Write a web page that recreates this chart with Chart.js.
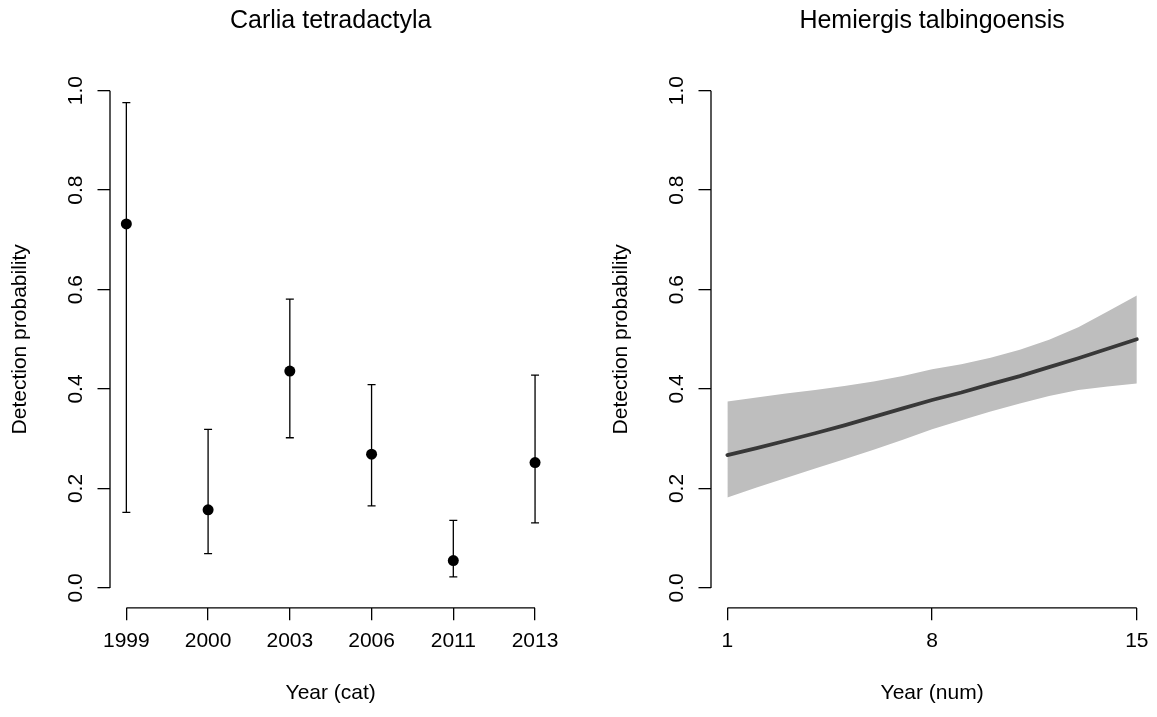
<!DOCTYPE html>
<html><head><meta charset="utf-8">
<script src="https://cdn.jsdelivr.net/npm/chart.js@4"></script>
<style>
html,body{margin:0;padding:0;background:#fff;width:1157px;height:717px;overflow:hidden}
#left{position:absolute;left:0;top:0}
#right{position:absolute;left:601px;top:0}
</style></head><body>
<canvas id="left" width="578" height="717"></canvas>
<canvas id="right" width="556" height="717"></canvas>
<script>
// ---- data ----
const years = ['1999', '2000', '2003', '2006', '2011', '2013'];
const carliaEst   = [0.732, 0.157, 0.436, 0.269, 0.055, 0.252];
const carliaLower = [0.152, 0.069, 0.302, 0.165, 0.022, 0.131];
const carliaUpper = [0.976, 0.319, 0.581, 0.409, 0.136, 0.428];

const yearNum   = [1, 2, 3, 4, 5, 6, 7, 8, 9, 10, 11, 12, 13, 14, 15];
const hemiEst   = [0.267, 0.281, 0.296, 0.311, 0.327, 0.344, 0.361, 0.378, 0.393, 0.410, 0.426, 0.444, 0.462, 0.481, 0.500];
const hemiLower = [0.182, 0.202, 0.221, 0.240, 0.259, 0.278, 0.298, 0.319, 0.337, 0.355, 0.371, 0.386, 0.398, 0.405, 0.411];
const hemiUpper = [0.375, 0.383, 0.391, 0.398, 0.406, 0.415, 0.426, 0.440, 0.450, 0.463, 0.479, 0.499, 0.524, 0.556, 0.588];

const yTicks = [0, 0.2, 0.4, 0.6, 0.8, 1.0];
const xTicksNum = [1, 8, 15];

// ---- styling ----
Chart.defaults.font.family = "'Liberation Sans', Arial, sans-serif";
Chart.defaults.color = '#000';

const FS = 21;
const tickGrid = {display: true, drawOnChartArea: false, drawTicks: true, tickLength: 12.5, color: '#000', lineWidth: 1.3};

function yScale() {
  return {
    type: 'linear', min: -0.04, max: 1.04,
    afterBuildTicks: s => { s.ticks = yTicks.map(v => ({value: v})); },
    afterFit: s => { s.width = 110; },
    border: {display: false},
    grid: tickGrid,
    ticks: {minRotation: 90, maxRotation: 90, crossAlign: 'center', padding: 7, autoSkip: false,
            font: {size: FS}, color: '#000', callback: v => Number(v).toFixed(1)},
    title: {display: true, text: 'Detection probability', font: {size: FS}, color: '#000', padding: {top: 8, bottom: 0}}
  };
}

const axisLines = {
  id: 'axisLines',
  afterDraw(chart) {
    const {ctx, chartArea, scales: {x, y}} = chart;
    const xt = x.ticks, yt = y.ticks;
    ctx.save();
    ctx.strokeStyle = '#000'; ctx.lineWidth = 1.3;
    ctx.beginPath();
    ctx.moveTo(chartArea.left, y.getPixelForValue(yt[0].value));
    ctx.lineTo(chartArea.left, y.getPixelForValue(yt[yt.length - 1].value));
    ctx.moveTo(x.getPixelForValue(xt[0].value), chartArea.bottom);
    ctx.lineTo(x.getPixelForValue(xt[xt.length - 1].value), chartArea.bottom);
    ctx.stroke();
    ctx.restore();
  }
};

const errorBars = {
  id: 'errorBars',
  beforeDatasetsDraw(chart) {
    const {ctx, scales: {x, y}} = chart;
    ctx.save();
    ctx.strokeStyle = '#000'; ctx.lineWidth = 1.3;
    ctx.beginPath();
    carliaEst.forEach((_, i) => {
      const px = x.getPixelForValue(i);
      const pl = y.getPixelForValue(carliaLower[i]);
      const pu = y.getPixelForValue(carliaUpper[i]);
      ctx.moveTo(px, pl); ctx.lineTo(px, pu);
      ctx.moveTo(px - 4, pu); ctx.lineTo(px + 4, pu);
      ctx.moveTo(px - 4, pl); ctx.lineTo(px + 4, pl);
    });
    ctx.stroke();
    ctx.restore();
  }
};

function titleCfg(text) {
  return {display: true, text, fullSize: false, color: '#000',
          font: {size: 25, weight: 'normal'}, padding: {top: 6, bottom: 34.8}};
}

new Chart(document.getElementById('left'), {
  type: 'scatter',
  data: {
    datasets: [{
      data: carliaEst.map((v, i) => ({x: i, y: v})),
      pointRadius: 5.5, pointHoverRadius: 5.5, backgroundColor: '#000', borderWidth: 0
    }]
  },
  options: {
    responsive: false, animation: false, events: [],
    layout: {padding: {left: 0, right: 26.6, top: 0, bottom: 0}},
    plugins: {legend: {display: false}, tooltip: {enabled: false}, title: titleCfg('Carlia tetradactyla')},
    scales: {
      x: {
        type: 'linear', min: -0.2, max: 5.2,
        afterBuildTicks: s => { s.ticks = years.map((_, i) => ({value: i})); },
        afterFit: s => { s.height = 109.2; },
        border: {display: false},
        grid: tickGrid,
        ticks: {maxRotation: 0, minRotation: 0, autoSkip: false, padding: 8, font: {size: FS}, color: '#000',
                callback: v => years[Math.round(v)]},
        title: {display: true, text: 'Year (cat)', font: {size: FS}, color: '#000', padding: {top: 0, bottom: 11}}
      },
      y: yScale()
    }
  },
  plugins: [errorBars, axisLines]
});

new Chart(document.getElementById('right'), {
  type: 'line',
  data: {
    datasets: [
      {data: yearNum.map((x, i) => ({x, y: hemiUpper[i]})), fill: '+1', backgroundColor: '#bebebe',
       borderColor: 'rgba(0,0,0,0)', borderWidth: 0, pointRadius: 0, tension: 0},
      {data: yearNum.map((x, i) => ({x, y: hemiLower[i]})), fill: false,
       borderColor: 'rgba(0,0,0,0)', borderWidth: 0, pointRadius: 0, tension: 0},
      {data: yearNum.map((x, i) => ({x, y: hemiEst[i]})), fill: false, borderColor: '#383838',
       borderWidth: 3.8, borderCapStyle: 'round', pointRadius: 0, tension: 0}
    ]
  },
  options: {
    responsive: false, animation: false, events: [],
    layout: {padding: {left: 0, right: 3.8, top: 0, bottom: 0}},
    plugins: {legend: {display: false}, tooltip: {enabled: false}, filler: {drawTime: 'beforeDatasetsDraw'},
              title: titleCfg('Hemiergis talbingoensis')},
    scales: {
      x: {
        type: 'linear', min: 0.44, max: 15.56,
        afterBuildTicks: s => { s.ticks = xTicksNum.map(v => ({value: v})); },
        afterFit: s => { s.height = 109.2; },
        border: {display: false},
        grid: tickGrid,
        ticks: {maxRotation: 0, minRotation: 0, autoSkip: false, padding: 8, font: {size: FS}, color: '#000'},
        title: {display: true, text: 'Year (num)', font: {size: FS}, color: '#000', padding: {top: 0, bottom: 11}}
      },
      y: yScale()
    }
  },
  plugins: [axisLines]
});
</script>
</body></html>
